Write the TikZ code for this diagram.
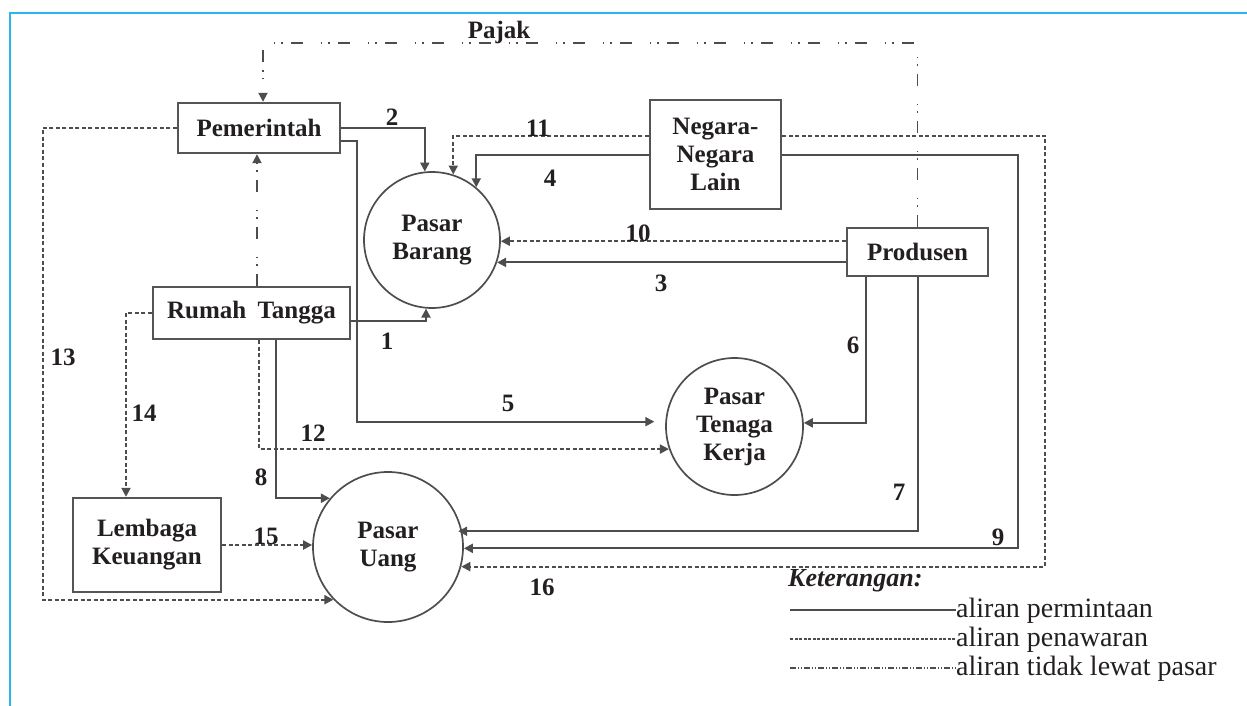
\documentclass[tikz,border=0pt]{standalone}
\usepackage{fontspec}
\setmainfont{Liberation Serif}
\usetikzlibrary{arrows.meta,calc}
\definecolor{ln}{HTML}{4D4D4D}
\definecolor{bx}{HTML}{555555}
\definecolor{framecol}{RGB}{41,182,237}
\definecolor{txt}{HTML}{231F20}
\begin{document}
\begin{tikzpicture}[x=1pt,y=-1pt,
  box/.style={draw=bx, line width=2.4pt, inner sep=0pt, align=center, text=txt,
    font=\fontsize{25}{28}\selectfont\bfseries},
  mkt/.style={circle, draw=ln, line width=1.7pt, inner sep=0pt, align=center, text=txt,
    font=\fontsize{25}{28}\selectfont\bfseries},
  tip/.style={-{Triangle[length=9pt,width=9pt]}},
  dem/.style={draw=ln, line width=2pt, tip},
  sup/.style={draw=ln, line width=2pt, dash pattern=on 4pt off 2.5pt, tip},
  nomkt/.style={draw=ln, line width=1.8pt, dash pattern=on 12pt off 8pt on 1.5pt off 6pt on 1.5pt off 18pt, tip},
  num/.style={inner sep=0pt, text=txt, font=\fontsize{25}{28}\selectfont\bfseries},
  legtxt/.style={inner sep=0pt, text=txt, font=\fontsize{28}{30}\selectfont},
]
\useasboundingbox (0,0) rectangle (1247,706);
% frame
\draw[framecol, line width=2pt] (10,706) -- (10,13) -- (1247,13);

% nodes
\node[box, minimum width=162pt, minimum height=50pt] (Pem) at (259,128) {Pemerintah};
\node[box, minimum width=131pt, minimum height=109pt] (Neg) at (715.5,154.5) {Negara-\\Negara\\Lain};
\node[box, minimum width=141pt, minimum height=48pt] (Pro) at (917.5,252) {Produsen};
\node[box, minimum width=197pt, minimum height=52pt] (RT) at (251.5,313) {Rumah\hspace{0.45em}Tangga};
\node[box, minimum width=148pt, minimum height=94pt] (LK) at (147,545) {Lembaga\\Keuangan};
\node[mkt, minimum size=136pt] (PB) at (432,240) {Pasar\\Barang};
\node[mkt, minimum size=137pt] (PT) at (734.5,426.5) {Pasar\\Tenaga\\Kerja};
\node[mkt, minimum size=150pt] (PU) at (388,547) {Pasar\\Uang};

% flows not through the market
\draw[nomkt] (Pro.north) -- ++(0,-184) -| ([xshift=4pt]Pem.north);
\draw[nomkt] ([xshift=5.5pt]RT.north) -- ([xshift=5.5pt]RT.north |- Pem.south);

% demand flows
\draw[dem] ([yshift=-8pt]RT.east) -| (PB.265);
\draw[dem] (Pem.east) -| (PB.96);
\draw[dem] (Pro.west |- PB.-19) -- (PB.-19);
\draw[dem] (Neg.west) -| (PB.50);
\draw[dem, shorten >=11pt] ([yshift=-13pt]Pem.east) -- ++(16,0) |- (PT.176);
\draw[dem] ([xshift=-51.5pt]Pro.south) |- (PT.3);
\draw[dem, shorten >=-4pt] (Pro.south) |- (PU.12);
\draw[dem] ([xshift=24.5pt]RT.south) |- (PU.140);
\draw[dem] (Neg.east) -- ++(236,0) |- (PU.-1);

% supply flows
\draw[sup] (Pro.west |- PB.-1) -- (PB.-1);
\draw[sup] ([yshift=18.5pt]Neg.west) -| (PB.72);
\draw[sup] ([xshift=7.5pt]RT.south) |- (PT.199);
\draw[sup] (Pem.west) -- ++(-134,0) |- (PU.224);
\draw[sup] (RT.west) -| ([xshift=-21pt]LK.north);
\draw[sup] (LK.east) -- (LK.east -| PU.west);
\draw[sup] ([yshift=18.5pt]Neg.east) -- ++(263,0) |- (PU.-15);

% labels
\node[num, anchor=base] (pajak) at (499,39) {Pajak};
\node[num] (n1) at (387,341) {1};
\node[num] (n2) at (392,117) {2};
\node[num] (n3) at (661,283) {3};
\node[num] (n4) at (550,178) {4};
\node[num] (n5) at (508,403) {5};
\node[num] (n6) at (853,345) {6};
\node[num] (n7) at (899,492) {7};
\node[num] (n8) at (261,477) {8};
\node[num] (n9) at (998,537) {9};
\node[num] (n10) at (638,233) {10};
\node[num] (n11) at (538,128) {11};
\node[num] (n12) at (313,433) {12};
\node[num] (n13) at (63,357) {13};
\node[num] (n14) at (144,413) {14};
\node[num] (n15) at (266,536) {15};
\node[num] (n16) at (542,587) {16};

% legend
\node[legtxt, font=\fontsize{26}{30}\selectfont\bfseries\itshape, anchor=west] (ket) at (788,581) {Keterangan:};
\node[legtxt, anchor=base west] (l1) at (956,617) {aliran permintaan};
\node[legtxt, anchor=base west] (l2) at (956,646) {aliran penawaran};
\node[legtxt, anchor=base west] (l3) at (956,675) {aliran tidak lewat pasar};
\coordinate (s1) at (790,610);
\coordinate (s2) at (790,639);
\coordinate (s3) at (790,668);
\draw[ln, line width=1.8pt] (s1) -- (s1 -| l1.west);
\draw[ln, line width=1.6pt, dash pattern=on 3pt off 1.5pt] (s2) -- (s2 -| l2.west);
\draw[ln, line width=1.6pt, dash pattern=on 6pt off 2pt on 1pt off 2pt on 1pt off 2pt] (s3) -- (s3 -| l3.west);
\end{tikzpicture}
\end{document}
